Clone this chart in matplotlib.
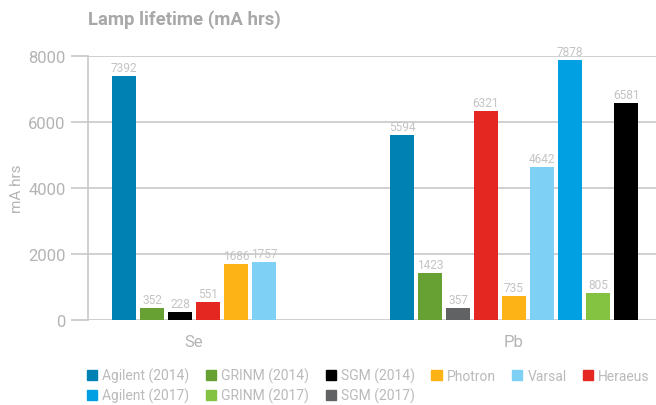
import matplotlib.pyplot as plt
import numpy as np

plt.rcParams['font.family'] = ['Roboto', 'DejaVu Sans']

categories = ["Se", "Pb"]
series_names = ["Agilent (2014)", "Agilent (2017)", "GRINM (2014)", "GRINM (2017)",
                "SGM (2014)", "SGM (2017)", "Photron", "Varsal", "Heraeus"]
colors = {"Agilent (2014)": "#0081b4", "Agilent (2017)": "#00a0e3",
          "GRINM (2014)": "#67a033", "GRINM (2017)": "#84c341",
          "SGM (2014)": "#000000", "SGM (2017)": "#616264",
          "Photron": "#fdb316", "Varsal": "#7ed0f5", "Heraeus": "#e52722"}

# bars per category, in drawing order
se_names = ["Agilent (2014)", "GRINM (2014)", "SGM (2014)", "Heraeus", "Photron", "Varsal"]
se_values = [7392, 352, 228, 551, 1686, 1757]
pb_names = ["Agilent (2014)", "GRINM (2014)", "SGM (2017)", "Heraeus", "Photron",
            "Varsal", "Agilent (2017)", "GRINM (2017)", "SGM (2014)"]
pb_values = [5594, 1423, 357, 6321, 735, 4642, 7878, 805, 6581]

groups = [(se_names, se_values), (pb_names, pb_values)]

grey = "#b4b4b4"
fig = plt.figure(figsize=(6.56, 4.06), dpi=100)
ax = fig.add_axes([88 / 656, 1 - 321 / 406, 1 - 88 / 656, (321 - 57) / 406])

slot = 0.0875
width = 0.0719
for ci, (names, vals) in enumerate(groups):
    n = len(names)
    for i, (nm, v) in enumerate(zip(names, vals)):
        x = ci + (i - (n - 1) / 2) * slot
        ax.bar(x, v, width=width, color=colors[nm], zorder=3)
        ax.text(x, v + 60, str(v), ha="center", va="bottom", fontsize=8.6,
                color="#c4c4c4", clip_on=False)

ax.set_xlim((88 - 194) / 320, (656 - 194) / 320)
ax.set_ylim(0, 8000)
ax.set_yticks(np.arange(0, 8001, 2000))
ax.set_xticks(range(len(categories)))
ax.set_xticklabels(categories)
ax.grid(axis="y", color="#c8c8c8", lw=1.2, zorder=0)
for s in ["top", "right", "bottom"]:
    ax.spines[s].set_visible(False)
ax.spines["left"].set_color("#c8c8c8")
ax.spines["left"].set_linewidth(1.2)
ax.tick_params(axis="y", colors="#c8c8c8", labelcolor=grey, labelsize=12, length=12, width=1.2, pad=4)
ax.tick_params(axis="x", length=0, labelcolor=grey, labelsize=12, pad=10)
ax.set_ylabel("mA hrs", color=grey, fontsize=11, labelpad=3)

fig.text(88 / 656, 1 - 20 / 406, "Lamp lifetime (mA hrs)", fontsize=13.3, fontweight="bold",
         color="#a8a8a8", ha="left", va="center")

handles = [plt.Rectangle((0, 0), 1, 1, color=colors[nm]) for nm in series_names]
leg = fig.legend(handles, series_names, ncol=6, loc="upper left",
                 bbox_to_anchor=(87 / 656, 1 - 369 / 406), frameon=False,
                 fontsize=10, handlelength=0.75, handleheight=0.75,
                 handletextpad=0.35, columnspacing=1.18, labelspacing=0.3, borderaxespad=0, borderpad=0)
for t in leg.get_texts():
    t.set_color("#bababa")

fig.savefig("out.png", dpi=100)
